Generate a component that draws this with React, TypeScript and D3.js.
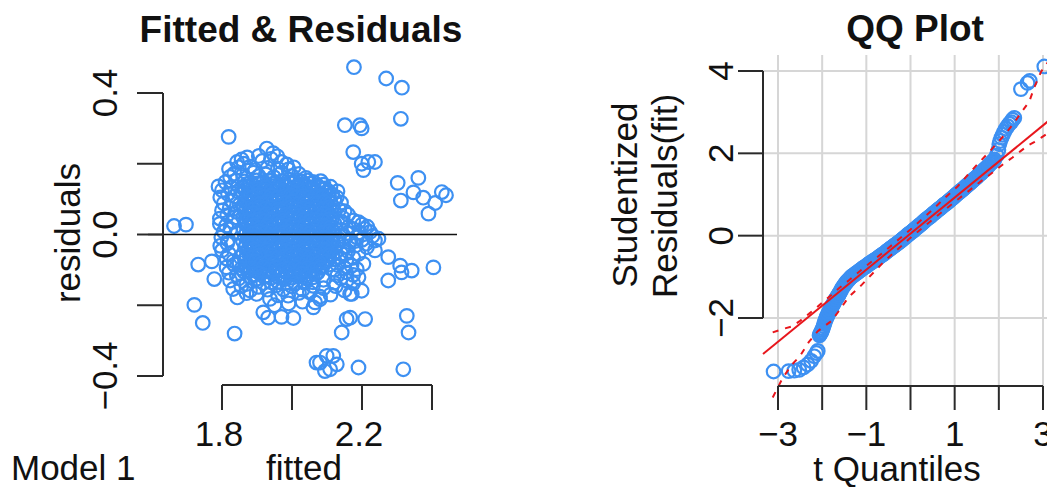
import React from 'react';
import * as d3 from 'd3';

// ---------- Left panel: fitted vs residuals ----------
// [fitted, residual]
const coreResiduals: [number, number][] = [
  [1.864,.150],[1.881,.147],[1.899,.153],[1.918,.149],[1.935,.152],[1.953,.146],[1.972,.151],[1.99,.154],[2.008,.148],[2.027,.150],[2.045,.153],[2.063,.147],[2.082,.151],
  [1.858,.133],[1.875,.136],[1.893,.130],[1.911,.134],[1.929,.131],[1.947,.137],[1.965,.132],[1.984,.135],[2.002,.129],[2.02,.134],[2.039,.137],[2.057,.131],[2.075,.134],[2.094,.130],[2.11,.135],
  [1.86,.117],[1.878,.113],[1.896,.119],[1.914,.115],[1.932,.118],[1.95,.112],[1.968,.116],[1.987,.119],[2.005,.114],[2.023,.117],[2.041,.113],[2.06,.118],[2.078,.115],[2.097,.119],[2.115,.113],
  [1.866,.099],[1.884,.102],[1.902,.096],[1.92,.100],[1.938,.097],[1.956,.103],[1.974,.098],[1.993,.101],[2.011,.095],[2.029,.100],[2.047,.103],[2.066,.097],[2.084,.101],[2.103,.096],[2.121,.100],
  [1.861,.083],[1.879,.079],[1.897,.085],[1.915,.081],[1.933,.084],[1.951,.078],[1.969,.082],[1.988,.086],[2.006,.080],[2.024,.083],[2.042,.079],[2.061,.084],[2.079,.081],[2.098,.085],[2.116,.079],
  [1.865,.065],[1.883,.068],[1.901,.062],[1.919,.066],[1.937,.063],[1.955,.069],[1.973,.064],[1.992,.067],[2.01,.061],[2.028,.066],[2.046,.069],[2.065,.063],[2.083,.067],[2.102,.062],[2.12,.066],
  [1.86,.049],[1.878,.045],[1.896,.051],[1.914,.047],[1.932,.050],[1.95,.044],[1.968,.048],[1.987,.052],[2.005,.046],[2.023,.049],[2.041,.045],[2.06,.050],[2.078,.047],[2.097,.051],[2.115,.045],
  [1.866,.031],[1.884,.034],[1.902,.028],[1.92,.032],[1.938,.029],[1.956,.035],[1.974,.030],[1.993,.033],[2.011,.027],[2.029,.032],[2.047,.035],[2.066,.029],[2.084,.033],[2.103,.028],[2.121,.032],
  [1.861,.015],[1.879,.011],[1.897,.017],[1.915,.013],[1.933,.016],[1.951,.010],[1.969,.014],[1.988,.018],[2.006,.012],[2.024,.015],[2.042,.011],[2.061,.016],[2.079,.013],[2.098,.017],[2.116,.011],
  [1.865,-.003],[1.883,.000],[1.901,-.006],[1.919,-.002],[1.937,-.005],[1.955,.001],[1.973,-.004],[1.992,-.001],[2.01,-.007],[2.028,-.002],[2.046,.001],[2.065,-.005],[2.083,-.001],[2.102,-.006],[2.12,-.002],
  [1.86,-.019],[1.878,-.023],[1.896,-.017],[1.914,-.021],[1.932,-.018],[1.95,-.024],[1.968,-.020],[1.987,-.016],[2.005,-.022],[2.023,-.019],[2.041,-.023],[2.06,-.018],[2.078,-.021],[2.097,-.017],[2.115,-.023],
  [1.866,-.037],[1.884,-.034],[1.902,-.040],[1.92,-.036],[1.938,-.039],[1.956,-.033],[1.974,-.038],[1.993,-.035],[2.011,-.041],[2.029,-.036],[2.047,-.033],[2.066,-.039],[2.084,-.035],[2.103,-.040],[2.121,-.036],
  [1.861,-.053],[1.879,-.057],[1.897,-.051],[1.915,-.055],[1.933,-.052],[1.951,-.058],[1.969,-.054],[1.988,-.050],[2.006,-.056],[2.024,-.053],[2.042,-.057],[2.061,-.052],[2.079,-.055],[2.098,-.051],[2.116,-.057],
  [1.865,-.071],[1.883,-.068],[1.901,-.074],[1.919,-.070],[1.937,-.073],[1.955,-.067],[1.973,-.072],[1.992,-.069],[2.01,-.075],[2.028,-.070],[2.046,-.067],[2.065,-.073],[2.083,-.069],[2.102,-.074],[2.12,-.070],
  [1.87,-.087],[1.888,-.091],[1.906,-.085],[1.924,-.089],[1.942,-.086],[1.96,-.092],[1.978,-.088],[1.997,-.084],[2.015,-.090],[2.033,-.087],[2.051,-.091],[2.07,-.086],[2.088,-.089],[2.107,-.085],
  [1.874,-.105],[1.892,-.102],[1.91,-.108],[1.928,-.104],[1.946,-.107],[1.964,-.101],[1.982,-.106],[2.001,-.103],[2.019,-.109],[2.037,-.104],[2.055,-.101],[2.074,-.107],
  [1.88,-.121],[1.9,-.125],[1.92,-.119],[1.94,-.123],[1.96,-.120],[1.98,-.126],[2.0,-.122],[2.02,-.118],[2.04,-.124],[2.06,-.121],
];

const coreResidualsInner: [number, number][] = [
  [1.87,.142],[1.889,.139],[1.908,.144],[1.926,.141],[1.944,.143],[1.962,.138],[1.981,.142],[1.999,.145],[2.017,.140],[2.036,.142],[2.054,.144],[2.072,.139],[2.09,.141],
  [1.867,.125],[1.885,.128],[1.903,.122],[1.921,.126],[1.94,.123],[1.958,.129],[1.976,.124],[1.995,.127],[2.013,.121],[2.031,.126],[2.05,.129],[2.068,.123],[2.086,.127],[2.105,.122],
  [1.869,.108],[1.887,.105],[1.905,.111],[1.923,.107],[1.941,.110],[1.959,.104],[1.978,.108],[1.996,.112],[2.014,.106],[2.032,.109],[2.051,.105],[2.069,.110],[2.088,.107],[2.106,.111],
  [1.874,.091],[1.892,.094],[1.91,.088],[1.928,.092],[1.946,.089],[1.964,.095],[1.983,.090],[2.001,.093],[2.019,.087],[2.037,.092],[2.056,.095],[2.074,.089],[2.093,.093],[2.111,.088],
  [1.87,.074],[1.888,.071],[1.906,.077],[1.924,.073],[1.942,.076],[1.96,.070],[1.978,.074],[1.997,.078],[2.015,.072],[2.033,.075],[2.051,.071],[2.07,.076],[2.088,.073],[2.107,.077],
  [1.873,.057],[1.891,.060],[1.909,.054],[1.927,.058],[1.945,.055],[1.963,.061],[1.982,.056],[2.0,.059],[2.018,.053],[2.036,.058],[2.055,.061],[2.073,.055],[2.092,.059],[2.11,.054],
  [1.869,.040],[1.887,.037],[1.905,.043],[1.923,.039],[1.941,.042],[1.959,.036],[1.978,.040],[1.996,.044],[2.014,.038],[2.032,.041],[2.051,.037],[2.069,.042],[2.088,.039],[2.106,.043],
  [1.874,.023],[1.892,.026],[1.91,.020],[1.928,.024],[1.946,.021],[1.964,.027],[1.983,.022],[2.001,.025],[2.019,.019],[2.037,.024],[2.056,.027],[2.074,.021],[2.093,.025],[2.111,.020],
  [1.87,.006],[1.888,.003],[1.906,.009],[1.924,.005],[1.942,.008],[1.96,.002],[1.978,.006],[1.997,.010],[2.015,.004],[2.033,.007],[2.051,.003],[2.07,.008],[2.088,.005],[2.107,.009],
  [1.873,-.011],[1.891,-.008],[1.909,-.014],[1.927,-.010],[1.945,-.013],[1.963,-.007],[1.982,-.012],[2.0,-.009],[2.018,-.015],[2.036,-.010],[2.055,-.007],[2.073,-.013],[2.092,-.009],[2.11,-.014],
  [1.869,-.028],[1.887,-.031],[1.905,-.025],[1.923,-.029],[1.941,-.026],[1.959,-.032],[1.978,-.028],[1.996,-.024],[2.014,-.030],[2.032,-.027],[2.051,-.031],[2.069,-.026],[2.088,-.029],[2.106,-.025],
  [1.874,-.045],[1.892,-.042],[1.91,-.048],[1.928,-.044],[1.946,-.047],[1.964,-.041],[1.983,-.046],[2.001,-.043],[2.019,-.049],[2.037,-.044],[2.056,-.041],[2.074,-.047],[2.093,-.043],[2.111,-.048],
  [1.87,-.062],[1.888,-.065],[1.906,-.059],[1.924,-.063],[1.942,-.060],[1.96,-.066],[1.978,-.062],[1.997,-.058],[2.015,-.064],[2.033,-.061],[2.051,-.065],[2.07,-.060],[2.088,-.063],[2.107,-.059],
  [1.878,-.079],[1.896,-.076],[1.914,-.082],[1.932,-.078],[1.95,-.081],[1.968,-.075],[1.987,-.080],[2.005,-.077],[2.023,-.083],[2.041,-.078],[2.06,-.075],[2.078,-.081],[2.097,-.077],
  [1.882,-.096],[1.9,-.099],[1.918,-.093],[1.936,-.097],[1.954,-.094],[1.972,-.100],[1.991,-.096],[2.009,-.092],[2.027,-.098],[2.045,-.095],[2.064,-.099],[2.082,-.094],
  [1.888,-.113],[1.908,-.110],[1.928,-.116],[1.948,-.112],[1.968,-.115],[1.988,-.109],[2.008,-.114],[2.028,-.111],[2.048,-.117],[2.068,-.112],
];

const edgeResiduals: [number, number][] = [
  // top
  [1.928,.243],[1.946,.230],[1.905,.222],[1.958,.221],[1.843,.205],[1.856,.212],[1.872,.218],[1.862,.200],[1.97,.205],[1.985,.198],[1.915,.208],[1.94,.214],
  [1.82,.185],[1.848,.19],[1.88,.192],[1.895,.182],[1.93,.188],[1.96,.186],[1.99,.184],[2.005,.19],[1.823,.163],[1.835,.172],[1.86,.168],[1.89,.175],
  [1.905,.165],[1.925,.17],[1.948,.162],[1.97,.174],[2.0,.166],[2.02,.171],[2.04,.16],[2.013,.153],[2.06,.148],
  // left
  [1.79,.136],[1.81,.148],[1.84,.152],[1.8,.125],[1.826,.133],[1.845,.122],[1.795,.105],[1.817,.115],[1.838,.108],[1.805,.088],[1.83,.095],[1.85,.084],
  [1.8,.068],[1.822,.075],[1.842,.064],[1.794,.045],[1.815,.055],[1.836,.048],[1.794,.03],[1.812,.025],[1.832,.036],[1.805,.008],[1.824,.015],[1.845,.005],
  [1.798,-.008],[1.818,-.015],[1.795,-.032],[1.815,-.025],[1.8,-.045],[1.82,-.055],[1.813,-.068],[1.833,-.075],[1.853,-.064],[1.813,-.093],[1.835,-.085],
  [1.856,-.096],[1.82,-.108],[1.842,-.115],[1.862,-.104],[1.85,-.08],
  // right
  [2.13,.122],[2.128,.105],[2.14,.09],[2.135,.07],[2.15,.066],[2.16,.056],[2.145,.047],[2.175,.04],[2.19,.035],[2.145,.034],[2.162,.022],[2.2,.028],
  [2.215,.022],[2.14,.013],[2.157,.004],[2.175,.015],[2.192,.006],[2.223,.007],[2.208,.016],[2.134,-.013],[2.15,-.006],[2.168,-.017],[2.185,-.008],
  [2.2,-.015],[2.247,-.012],[2.23,-.004],[2.132,-.025],[2.148,-.034],[2.165,-.022],[2.182,-.031],[2.212,-.026],[2.14,-.054],[2.16,-.047],[2.237,-.045],
  [2.19,-.055],[2.135,-.064],[2.155,-.073],[2.175,-.066],[2.13,-.086],[2.15,-.095],[2.17,-.088],[2.204,-.083],[2.185,-.098],[2.13,-.116],[2.155,-.107],
  [2.175,-.114],[2.19,-.121],[2.12,-.1],[2.214,-.036],[2.237,-.017],
  // bottom
  [1.823,-.13],[1.848,-.124],[1.87,-.14],[1.895,-.128],[1.918,-.137],[1.94,-.135],[1.96,-.134],[1.985,-.137],[2.01,-.138],[2.035,-.136],[2.06,-.135],
  [2.09,-.128],[2.12,-.136],[2.156,-.13],[2.14,-.124],[2.175,-.138],[1.832,-.154],[1.855,-.146],[1.88,-.158],[1.905,-.148],[1.93,-.156],[1.955,-.144],
  [1.975,-.155],[2.0,-.147],[2.03,-.156],[2.06,-.145],[2.09,-.152],[2.125,-.146],[2.15,-.158],[1.844,-.178],[1.87,-.166],[1.899,-.168],[1.937,-.182],
  [1.96,-.172],[1.989,-.173],[2.02,-.165],[2.051,-.164],[2.08,-.176],[2.166,-.168],[2.199,-.159],[2.11,-.17],[1.918,-.22],[1.932,-.235],[1.97,-.233],
  [2.004,-.236],[2.061,-.206],[2.066,-.192],[2.08,-.183],[1.95,-.2],[1.99,-.195],[2.03,-.19],[2.171,-.168],
];

const outlierResiduals: [number, number][] = [
  [2.177,.473],[2.269,.441],[2.314,.415],[2.311,.327],[2.151,.309],[2.194,.309],[2.199,.300],[1.819,.276],[2.175,.233],[2.204,.182],[2.199,.200],
  [2.218,.205],[2.237,.205],[2.302,.146],[2.361,.160],[2.311,.096],[2.347,.119],[2.375,.104],[2.409,.089],[2.428,.120],[2.440,.111],[2.390,.059],
  [1.663,.024],[1.697,.028],[1.732,-.085],[1.771,-.076],[1.778,-.126],[1.721,-.199],[1.745,-.250],[1.836,-.280],
  [2.275,-.064],[2.275,-.130],[2.309,-.088],[2.313,-.107],[2.342,-.102],[2.404,-.093],
  [2.328,-.230],[2.333,-.277],[2.318,-.381],[2.190,-.376],[2.156,-.239],[2.166,-.235],[2.209,-.239],[2.142,-.277],
  [2.080,-.362],[2.099,-.343],[2.118,-.343],[2.128,-.367],[2.094,-.386],[2.109,-.381],[2.070,-.362],
];

const fittedTicks = [1.8, 2.0, 2.2, 2.4];
const fittedTickLabels = ['1.8', '', '2.2', ''];
const residualTicks = [-0.4, -0.2, 0, 0.2, 0.4];
const residualTickLabels = ['\u22120.4', '', '0.0', '', '0.4'];

// ---------- Right panel: QQ plot ----------
// [t quantile, studentized residual]
const qqPoints: [number, number][] = [
  [-3.10,-3.30],[-2.76,-3.29],[-2.63,-3.28],[-2.52,-3.26],[-2.42,-3.20],[-2.33,-3.13],[-2.25,-3.04],[-2.18,-2.93],[-2.13,-2.85],[-2.10,-2.80],
  [-2.06,-2.42],[-2.03,-2.36],[-2.00,-2.29],[-1.97,-2.20],[-1.94,-2.10],[-1.91,-2.01],[-1.88,-1.94],[-1.85,-1.87],[-1.82,-1.81],[-1.79,-1.75],
  [-1.76,-1.68],[-1.73,-1.62],[-1.70,-1.56],[-1.67,-1.51],[-1.64,-1.46],[-1.62,-1.42],
  [-1.60,-1.38],[-1.55,-1.28],[-1.50,-1.20],[-1.45,-1.13],[-1.40,-1.07],[-1.35,-1.01],[-1.30,-0.97],[-1.25,-0.93],[-1.20,-0.89],[-1.15,-0.85],
  [-1.10,-0.81],[-1.05,-0.77],[-1.00,-0.74],[-0.95,-0.69],[-0.90,-0.66],[-0.85,-0.62],[-0.80,-0.59],[-0.75,-0.55],[-0.70,-0.51],[-0.65,-0.47],
  [-0.60,-0.44],[-0.55,-0.39],[-0.50,-0.35],[-0.45,-0.31],[-0.40,-0.27],[-0.35,-0.23],[-0.30,-0.19],[-0.25,-0.15],[-0.20,-0.11],[-0.15,-0.06],
  [-0.10,-0.02],[-0.05,0.03],[0.00,0.07],[0.05,0.11],[0.10,0.16],[0.15,0.20],[0.20,0.25],[0.25,0.29],[0.30,0.34],[0.35,0.39],
  [0.40,0.43],[0.45,0.47],[0.50,0.52],[0.55,0.56],[0.60,0.61],[0.65,0.65],[0.70,0.69],[0.75,0.74],[0.80,0.78],[0.85,0.82],
  [0.90,0.87],[0.95,0.91],[1.00,0.96],[1.05,1.01],[1.10,1.05],[1.15,1.10],[1.20,1.14],[1.25,1.19],[1.30,1.24],[1.35,1.28],
  [1.40,1.33],[1.45,1.38],[1.50,1.42],[1.55,1.48],[1.60,1.52],[1.65,1.58],[1.70,1.63],[1.75,1.68],[1.80,1.74],[1.85,1.79],[1.90,1.85],
  [1.95,1.95],[1.99,2.08],[2.01,2.22],[2.03,2.30],[2.06,2.38],[2.09,2.45],[2.12,2.52],[2.16,2.60],[2.20,2.66],[2.24,2.72],[2.28,2.76],
  [2.31,2.82],[2.35,2.86],[2.50,3.56],[2.65,3.71],[2.70,3.76],[3.03,4.11],
];

const qqBandPoints: [number, number][] = [
  [-1.575,-1.33],[-1.525,-1.24],[-1.475,-1.165],[-1.425,-1.10],[-1.375,-1.04],[-1.325,-0.99],[-1.275,-0.95],[-1.225,-0.91],[-1.175,-0.87],[-1.125,-0.83],
  [-1.075,-0.79],[-1.025,-0.755],[-0.975,-0.715],[-0.925,-0.675],[-0.875,-0.64],[-0.825,-0.605],[-0.775,-0.57],[-0.725,-0.53],[-0.675,-0.49],[-0.625,-0.455],
  [-0.575,-0.415],[-0.525,-0.37],[-0.475,-0.33],[-0.425,-0.29],[-0.375,-0.25],[-0.325,-0.21],[-0.275,-0.17],[-0.225,-0.13],[-0.175,-0.085],[-0.125,-0.04],
  [-0.075,0.005],[-0.025,0.05],[0.025,0.09],[0.075,0.135],[0.125,0.18],[0.175,0.225],[0.225,0.27],[0.275,0.315],[0.325,0.365],[0.375,0.41],
  [0.425,0.45],[0.475,0.495],[0.525,0.54],[0.575,0.585],[0.625,0.63],[0.675,0.67],[0.725,0.715],[0.775,0.76],[0.825,0.80],[0.875,0.845],
  [0.925,0.89],[0.975,0.935],[1.025,0.985],[1.075,1.03],[1.125,1.075],[1.175,1.12],[1.225,1.165],[1.275,1.215],[1.325,1.26],[1.375,1.305],
  [1.425,1.355],[1.475,1.40],[1.525,1.45],[1.575,1.50],[1.625,1.55],[1.675,1.605],[1.725,1.655],[1.775,1.71],[1.825,1.765],[1.875,1.82],
  [-2.045,-2.39],[-2.015,-2.33],[-1.985,-2.25],[-1.955,-2.15],[-1.925,-2.05],[-1.895,-1.97],[-1.865,-1.90],[-1.835,-1.84],[-1.805,-1.78],[-1.775,-1.71],
  [-1.745,-1.65],[-1.715,-1.59],[-1.685,-1.53],[-1.655,-1.48],[-1.63,-1.44],
];

const qqLineIntercept = 0.05;
const qqLineSlope = 0.876;

const envQuantiles = [-3.12,-2.9,-2.7,-2.5,-2.3,-2.1,-1.8,-1.6,-1.4,-1.1,-0.6,0,0.5,0.8,1.07,1.3,1.52,1.83,2.13,2.31,2.5,2.69,2.81,2.96,3.12];
const envUpper = [-2.35,-2.27,-2.21,-2.07,-1.90,-1.72,-1.45,-1.26,-1.09,-0.82,-0.39,0.15,0.63,0.94,1.20,1.48,1.74,2.09,2.45,2.69,2.98,3.26,3.62,3.99,4.23];
const envLower = [-3.93,-3.47,-3.15,-2.92,-2.58,-2.32,-2.08,-1.80,-1.49,-1.19,-0.63,-0.05,0.39,0.65,0.88,1.07,1.26,1.51,1.76,1.90,2.06,2.21,2.28,2.38,2.50];

const qqXTicks = [-3, -2, -1, 0, 1, 2, 3];
const qqXTickLabels = ['\u22123', '', '\u22121', '', '1', '', '3'];
const qqYTicks = [-2, 0, 2, 4];
const qqYTickLabels = ['\u22122', '0', '2', '4'];

const FONT = '"Liberation Sans", Arial, Helvetica, sans-serif';
const POINT_COLOR = '#3d90f2';
const AXIS_COLOR = '#2a2a2a';
const RED = '#e8161c';
const POINT_R = 6.8;
const POINT_SW = 2.2;

export default function App() {
  // left scales
  const xL = d3.scaleLinear().domain([1.8, 2.4]).range([222, 432]);
  const yL = d3.scaleLinear().domain([-0.4, 0.4]).range([376, 93]);
  const allResiduals = [...coreResiduals, ...coreResidualsInner, ...edgeResiduals, ...outlierResiduals];

  // right scales
  const xQ = d3.scaleLinear().domain([-3, 3]).range([778, 1043]);
  const yQ = d3.scaleLinear().domain([-2, 4]).range([318, 71]);
  const qqLeft = 763;
  const qqRight = 1060;
  const lineX0 = xQ.invert(qqLeft);
  const lineX1 = xQ.invert(qqRight);
  const allQQ = [...qqPoints, ...qqBandPoints];

  const envLine = (vals: number[]) =>
    d3.line<number>().x((_, i) => xQ(envQuantiles[i])).y((v) => yQ(v))(vals) || '';

  const fs = 35;

  return (
    <svg
      width={1047}
      height={487}
      style={{ position: 'absolute', left: 0, top: 0, background: '#fff' }}
      fontFamily={FONT}
    >
      <rect x={0} y={0} width={1047} height={487} fill="#fff" />

      {/* ===== Left panel ===== */}
      <text x={301} y={42} textAnchor="middle" fontSize={37} fontWeight="bold" fill="#111">
        Fitted &amp; Residuals
      </text>

      {allResiduals.map(([f, r], i) => (
        <circle key={'r' + i} cx={xL(f)} cy={yL(r)} r={POINT_R} fill="none" stroke={POINT_COLOR} strokeWidth={POINT_SW} />
      ))}

      <line x1={148} x2={457} y1={yL(0)} y2={yL(0)} stroke="#111" strokeWidth={1.6} />

      {/* y axis */}
      <line x1={163} x2={163} y1={yL(0.4)} y2={yL(-0.4)} stroke={AXIS_COLOR} strokeWidth={2} />
      {residualTicks.map((t, i) => (
        <g key={'yt' + i}>
          <line x1={137} x2={163} y1={yL(t)} y2={yL(t)} stroke={AXIS_COLOR} strokeWidth={2} />
          {residualTickLabels[i] && (
            <text
              transform={`translate(117,${yL(t)}) rotate(-90)`}
              textAnchor="middle"
              fontSize={fs}
              fill="#111"
            >
              {residualTickLabels[i]}
            </text>
          )}
        </g>
      ))}
      <text transform={`translate(80,233) rotate(-90)`} textAnchor="middle" fontSize={fs} fill="#111">
        residuals
      </text>

      {/* x axis */}
      <line x1={xL(1.8)} x2={xL(2.4)} y1={385} y2={385} stroke={AXIS_COLOR} strokeWidth={2} />
      {fittedTicks.map((t, i) => (
        <g key={'xt' + i}>
          <line x1={xL(t)} x2={xL(t)} y1={385} y2={410} stroke={AXIS_COLOR} strokeWidth={2} />
          {fittedTickLabels[i] && (
            <text x={xL(t) - 3} y={446} textAnchor="middle" fontSize={fs} fill="#111">
              {fittedTickLabels[i]}
            </text>
          )}
        </g>
      ))}
      <text x={304} y={480} textAnchor="middle" fontSize={fs} fill="#111">
        fitted
      </text>
      <text x={11} y={480} textAnchor="start" fontSize={fs} fill="#111">
        Model 1
      </text>

      {/* ===== Right panel ===== */}
      <text x={915} y={41} textAnchor="middle" fontSize={37} fontWeight="bold" fill="#111">
        QQ Plot
      </text>

      {/* grid */}
      {qqXTicks.map((t, i) => (
        <line key={'gx' + i} x1={xQ(t)} x2={xQ(t)} y1={55} y2={386} stroke="#d6d6d6" strokeWidth={2} />
      ))}
      {qqYTicks.map((t, i) => (
        <line key={'gy' + i} x1={qqLeft} x2={1047} y1={yQ(t)} y2={yQ(t)} stroke="#d6d6d6" strokeWidth={2} />
      ))}

      {allQQ.map(([q, s], i) => (
        <circle key={'q' + i} cx={xQ(q)} cy={yQ(s)} r={POINT_R} fill="none" stroke={POINT_COLOR} strokeWidth={POINT_SW} />
      ))}

      <line
        x1={qqLeft}
        x2={qqRight}
        y1={yQ(qqLineIntercept + qqLineSlope * lineX0)}
        y2={yQ(qqLineIntercept + qqLineSlope * lineX1)}
        stroke={RED}
        strokeWidth={2}
      />
      <path d={envLine(envUpper)} fill="none" stroke={RED} strokeWidth={2} strokeDasharray="6,7" />
      <path d={envLine(envLower)} fill="none" stroke={RED} strokeWidth={2} strokeDasharray="6,7" />

      {/* y axis */}
      <line x1={qqLeft} x2={qqLeft} y1={yQ(4)} y2={yQ(-2)} stroke={AXIS_COLOR} strokeWidth={2} />
      {qqYTicks.map((t, i) => (
        <g key={'qy' + i}>
          <line x1={738} x2={qqLeft} y1={yQ(t)} y2={yQ(t)} stroke={AXIS_COLOR} strokeWidth={2} />
          <text transform={`translate(733,${yQ(t)}) rotate(-90)`} textAnchor="middle" fontSize={fs} fill="#111">
            {qqYTickLabels[i]}
          </text>
        </g>
      ))}
      <text transform={`translate(637,195) rotate(-90)`} textAnchor="middle" fontSize={fs} fill="#111">
        Studentized
      </text>
      <text transform={`translate(677,196) rotate(-90)`} textAnchor="middle" fontSize={fs} fill="#111">
        Residuals(fit)
      </text>

      {/* x axis */}
      <line x1={xQ(-3)} x2={xQ(3)} y1={386} y2={386} stroke={AXIS_COLOR} strokeWidth={2} />
      {qqXTicks.map((t, i) => (
        <g key={'qx' + i}>
          <line x1={xQ(t)} x2={xQ(t)} y1={386} y2={410} stroke={AXIS_COLOR} strokeWidth={2} />
          {qqXTickLabels[i] && (
            <text x={xQ(t)} y={446} textAnchor="middle" fontSize={fs} fill="#111">
              {qqXTickLabels[i]}
            </text>
          )}
        </g>
      ))}
      <text x={897} y={481} textAnchor="middle" fontSize={fs} fill="#111">
        t Quantiles
      </text>
    </svg>
  );
}
